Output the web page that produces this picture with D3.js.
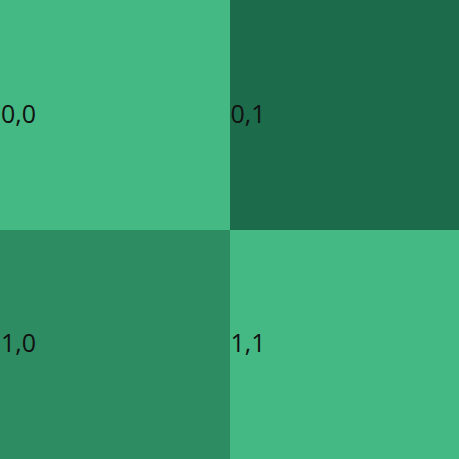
<!DOCTYPE html>
<html><head><meta charset="utf-8">
<script src="https://cdn.jsdelivr.net/npm/d3@7"></script>
<style>html,body{margin:0;padding:0;overflow:hidden;background:#fff}</style>
</head><body>
<svg id="chart" width="459" height="459"></svg>
<script>
const rows = [0, 1];
const cols = [0, 1];
const values = [[1, 3], [2, 1]];
const palette = ["#45b983", "#2e8c62", "#1c6b4b"];

const W = 459, H = 459;
const svg = d3.select("#chart");
const x = d3.scaleBand().domain(cols).range([0, W]);
const y = d3.scaleBand().domain(rows).range([0, H]);
const color = d3.scaleOrdinal().domain([1, 2, 3]).range(palette);

const cells = [];
rows.forEach(r => cols.forEach(c => cells.push({r, c, v: values[r][c]})));

const g = svg.selectAll("g.cell").data(cells).join("g").attr("class", "cell");
g.append("rect")
  .attr("x", d => x(d.c)).attr("y", d => y(d.r))
  .attr("width", x.bandwidth() + 0.5).attr("height", y.bandwidth() + 0.5)
  .attr("shape-rendering", "crispEdges")
  .attr("fill", d => color(d.v));
g.append("text")
  .attr("x", d => x(d.c) + 1)
  .attr("y", d => y(d.r) + y.bandwidth() / 2 + 8)
  .attr("font-family", "'Open Sans', 'Noto Sans', sans-serif")
  .attr("font-size", 25)
  .attr("fill", "#111")
  .text(d => `${d.r},${d.c}`);
</script>
</body></html>
